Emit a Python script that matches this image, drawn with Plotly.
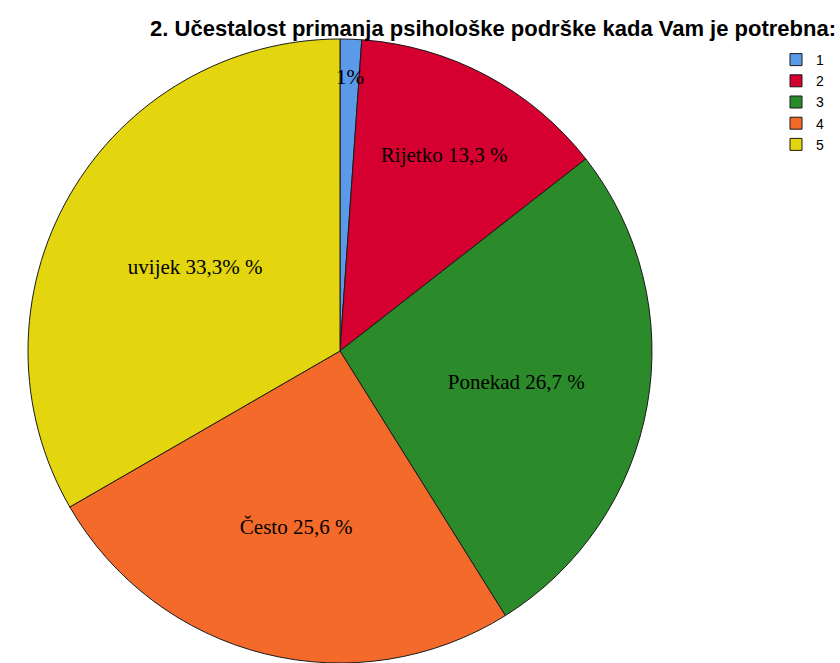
import math
import plotly.graph_objects as go

# answers to question 2 (number of respondents per category)
categories = ['1', '2', '3', '4', '5']
counts = [1, 12, 24, 23, 30]
slice_text = ['1%', 'Rijetko 13,3 %', 'Ponekad 26,7 %', 'Često 25,6 %', 'uvijek 33,3% %']
slice_colors = ['#5a9ae8', '#d5002f', '#2b8a2a', '#f46a2a', '#e3d50e']

W, H = 840, 663
R = 312                       # pie radius in px
CX, CY = 340 / W, R / H       # pie centre in paper coords

label_font = dict(family='Liberation Serif, Times New Roman, serif', size=21, color='black')

fig = go.Figure()
fig.add_trace(go.Pie(
    labels=categories,
    values=counts,
    # the thin first slice gets its label as an annotation further in (see below)
    text=[''] + slice_text[1:],
    textinfo='text',
    textposition='inside',
    insidetextorientation='horizontal',
    textfont=label_font,
    marker=dict(colors=slice_colors, line=dict(color='#1a1a1a', width=1)),
    sort=False,
    direction='clockwise',
    rotation=0,
    hoverinfo='label+percent',
    domain=dict(x=[CX - R / W, CX + R / W], y=[0, 2 * R / H]),
))

# label of the first slice: on its bisector, at 0.88 of the radius
mid = 2 * math.pi * (counts[0] / 2) / sum(counts)
fig.add_annotation(
    text=slice_text[0], showarrow=False, font=label_font,
    xref='paper', yref='paper', xanchor='center', yanchor='middle',
    x=CX + 0.88 * R / W * math.sin(mid),
    y=CY + 0.88 * R / H * math.cos(mid),
)

fig.update_layout(
    width=W,
    height=H,
    margin=dict(l=0, r=0, t=0, b=0),
    paper_bgcolor='white',
    plot_bgcolor='white',
    title=dict(
        text='<b>2. Učestalost primanja psihološke podrške kada Vam je potrebna:</b>',
        x=836 / W, xanchor='right',
        y=1 - 28 / H, yanchor='middle',
        font=dict(family='Liberation Sans, Arial, sans-serif', size=22, color='black'),
    ),
    legend=dict(
        x=776 / W, xanchor='left',
        y=1 - 44 / H, yanchor='top',
        font=dict(family='Liberation Sans, Arial, sans-serif', size=14, color='black'),
        tracegroupgap=0,
        bgcolor='rgba(0,0,0,0)',
    ),
    uniformtext=dict(minsize=21, mode='show'),
    showlegend=True,
)

# drop the default 8px body margin so the figure fills the window exactly
fig.write_html('out.html', config={'displayModeBar': False},
               post_script="document.body.style.margin='0';")
